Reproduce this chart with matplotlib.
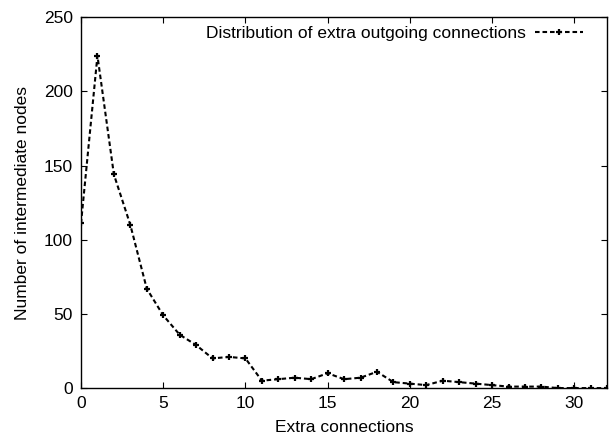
import matplotlib
matplotlib.use("Agg")
import matplotlib.pyplot as plt

extra = list(range(0, 33))
nodes = [111, 224, 144, 110, 67, 49, 36, 29, 20, 21, 20, 5, 6, 7, 6, 10,
         6, 7, 11, 4, 3, 2, 5, 4, 3, 2, 1, 1, 1, 0, 0, 0, 0]

xticks = [0, 5, 10, 15, 20, 25, 30]
yticks = [0, 50, 100, 150, 200, 250]

plt.rcParams["font.family"] = ["Liberation Sans", "DejaVu Sans"]
plt.rcParams["font.size"] = 12.5

fig = plt.figure(figsize=(6.09, 4.40), dpi=100)
ax = fig.add_axes([0.133, 0.118, 0.864, 0.843])

ax.plot(extra, nodes, color="black", linestyle=(0, (2.2, 1.4)), linewidth=1.5,
        marker="+", markersize=5, markeredgewidth=1.6,
        label="Distribution of extra outgoing connections")

ax.set_xlim(0, 32)
ax.set_ylim(0, 250)
ax.set_xticks(xticks)
ax.set_yticks(yticks)
ax.tick_params(direction="in", top=True, right=True, length=4, width=0.8, pad=6)
for s in ax.spines.values():
    s.set_linewidth(1.0)

ax.set_xlabel("Extra connections", labelpad=6)
ax.set_ylabel("Number of intermediate nodes", labelpad=10)

leg = ax.legend(loc="upper right", bbox_to_anchor=(0.968, 0.995), frameon=False,
                handlelength=2.8, handletextpad=0.5, borderaxespad=0,
                markerfirst=False)

fig.savefig("out.png", dpi=100)
